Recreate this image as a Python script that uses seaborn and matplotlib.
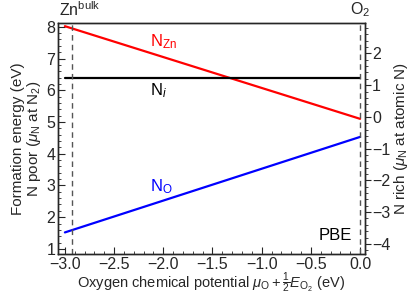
import matplotlib
matplotlib.use("Agg")
import matplotlib.pyplot as plt
import seaborn as sns
import pandas as pd
from matplotlib.ticker import MultipleLocator, FuncFormatter

sns.set_style("ticks")
plt.rcParams['font.family'] = ['Liberation Sans', 'DejaVu Sans']
plt.rcParams['mathtext.fontset'] = 'custom'
plt.rcParams['mathtext.rm'] = 'Liberation Sans'
plt.rcParams['mathtext.it'] = 'Liberation Sans:italic'
plt.rcParams['mathtext.bf'] = 'Liberation Sans:bold'

# Data
mu_O = [-3.0, 0.0]
E_NZn = [8.02, 5.10]
E_Ni = [6.39, 6.39]
E_NO = [1.52, 4.53]
zn_bulk_x = -2.93
o2_x = 0.0
right_offset = 5.16  # N rich axis = N poor axis - offset

df = pd.DataFrame({
    "mu": mu_O * 3,
    "E": E_NZn + E_Ni + E_NO,
    "defect": ["NZn"] * 2 + ["Ni"] * 2 + ["NO"] * 2,
})

fig = plt.figure(figsize=(4.09, 2.95), dpi=100)
ax = fig.add_axes([58/409, 1-254/295, (365-58)/409, (254-23)/295])

sns.lineplot(data=df, x="mu", y="E", hue="defect",
             palette={"NZn": "#ff0000", "Ni": "#000000", "NO": "#0000ff"},
             linewidth=1.6, legend=False, ax=ax)

for xv in (zn_bulk_x, o2_x):
    ax.axvline(xv, color="#555555", linestyle=(0, (4, 3)), linewidth=1.0)

ax.set_xlim(-3.07, 0.05)
ax.set_ylim(0.84, 8.12)

ax.xaxis.set_major_locator(MultipleLocator(0.5))
ax.xaxis.set_minor_locator(MultipleLocator(0.1))
ax.yaxis.set_major_locator(MultipleLocator(1))
ax.yaxis.set_minor_locator(MultipleLocator(0.2))
ax.tick_params(axis="both", which="both", direction="in", labelsize=11.5)
ax.tick_params(which="major", length=5)
ax.tick_params(which="minor", length=2.5)
ax.tick_params(axis="x", pad=2)
ax.tick_params(axis="y", pad=2)
ax.xaxis.set_major_formatter(FuncFormatter(lambda v, p: f"{v:.1f}".replace("-", "\u2212")))

ax.set_xlabel(r"Oxygen chemical potential $\mu_{\rm O} + \frac{1}{2}E_{\rm O_2}$ (eV)", fontsize=10.5, labelpad=-1)
ax.set_ylabel("Formation energy (eV)\n" + r"N poor ($\mu_{\rm N}$ at N$_2$)", fontsize=11, labelpad=2, linespacing=1.05)

ax2 = ax.twinx()
ax2.set_ylim(0.84 - right_offset, 8.12 - right_offset)
ax2.yaxis.set_major_locator(MultipleLocator(1))
ax2.yaxis.set_minor_locator(MultipleLocator(0.2))
ax2.yaxis.set_major_formatter(FuncFormatter(lambda v, p: f"{v:.0f}".replace("-", "\u2212")))
ax2.tick_params(axis="y", which="both", direction="out", labelsize=11.5, pad=1)
ax2.tick_params(which="major", length=4)
ax2.tick_params(which="minor", length=2)
ax2.set_ylabel(r"N rich ($\mu_{\rm N}$ at atomic N)", fontsize=11, labelpad=1)

for sp in ax.spines.values():
    sp.set_linewidth(1.0)
for sp in ax2.spines.values():
    sp.set_linewidth(1.0)

ax.text(-2.13, 7.53, r"N$_{\rm Zn}$", color="#ff0000", fontsize=12, va="center", ha="left")
ax.text(-2.14, 6.0, r"N$_{i}$", color="black", fontsize=12, va="center", ha="left")
ax.text(-2.13, 2.95, r"N$_{\rm O}$", color="#0000ff", fontsize=12, va="center", ha="left")
ax.text(-0.08, 1.42, "PBE", color="black", fontsize=12, va="center", ha="right")

ax.text(-3.06, 8.25, r"Zn$^{\rm bulk}$", fontsize=11.5, ha="left", va="bottom")
ax.text(o2_x, 8.25, r"O$_2$", fontsize=11.5, ha="center", va="bottom")

fig.savefig("out.png", dpi=100)
